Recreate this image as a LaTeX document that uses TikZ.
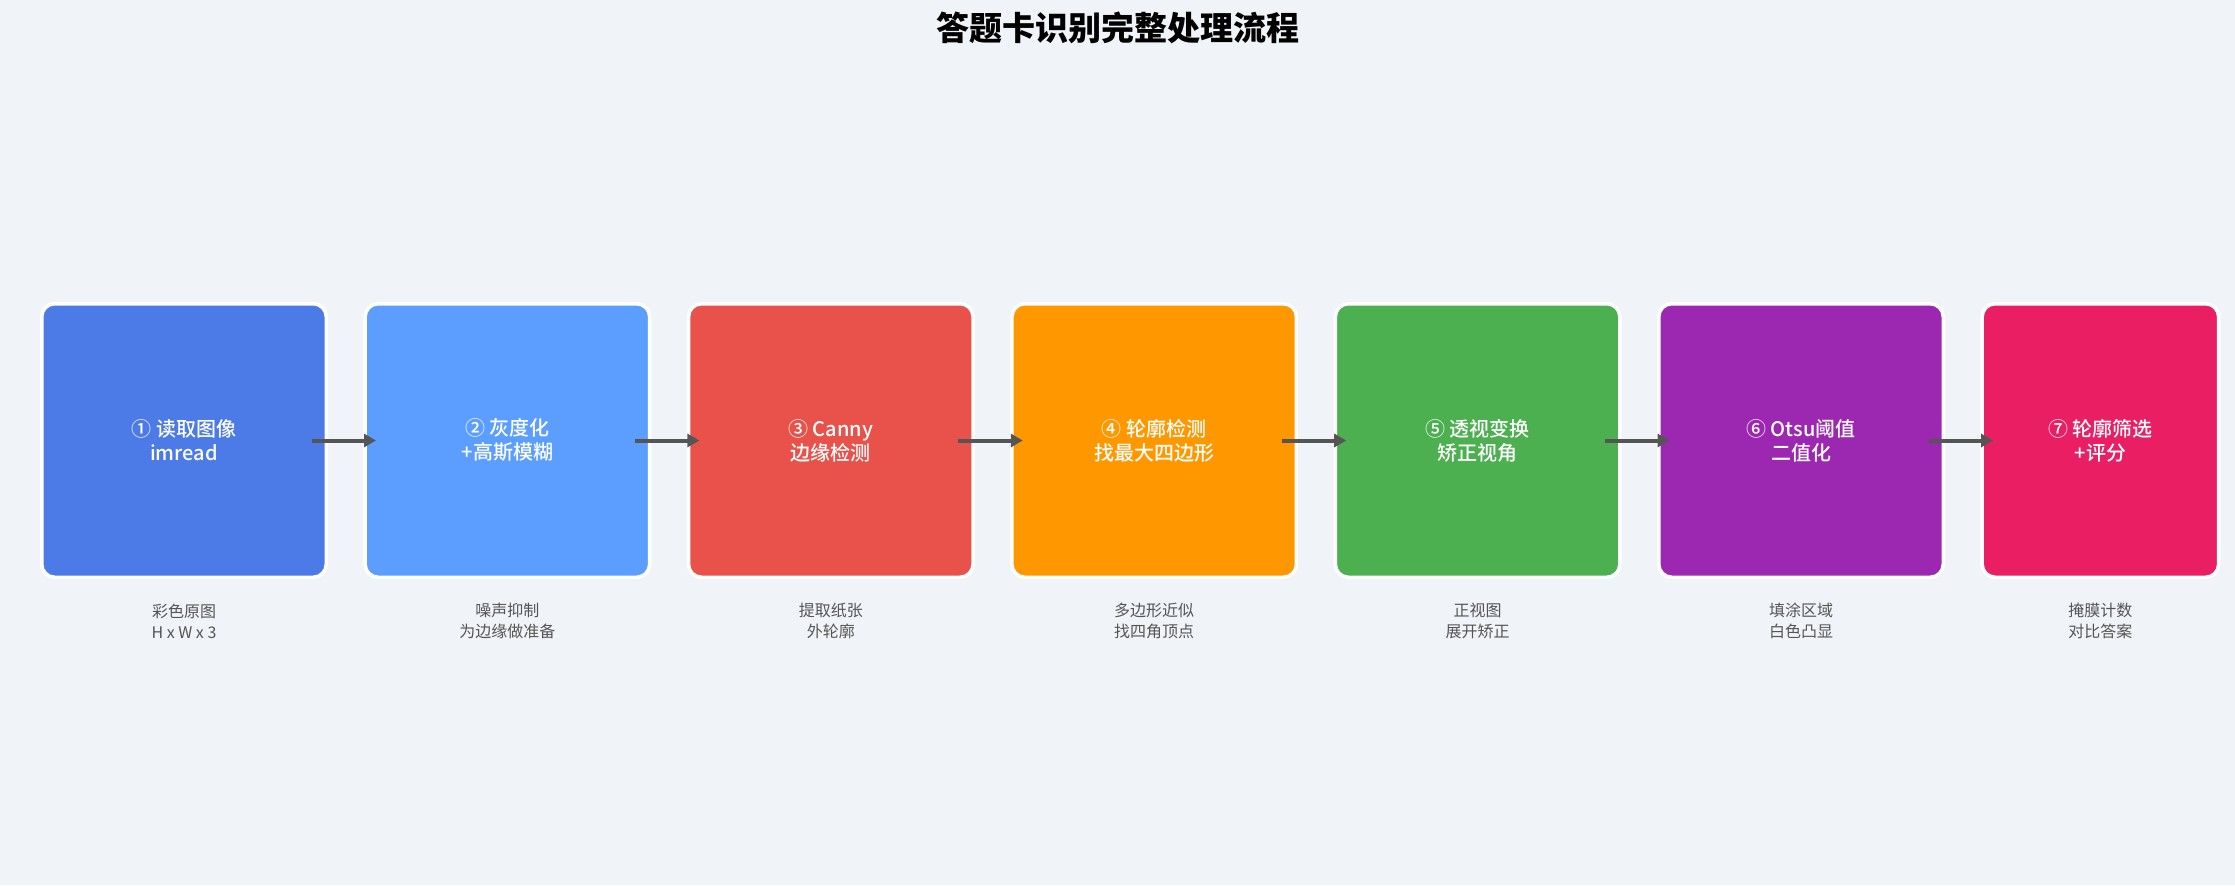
\documentclass[tikz,border=0pt]{standalone}
\usepackage{fontspec}
\usepackage{xcolor}
\usepackage{tikz}
\usetikzlibrary{positioning,arrows.meta}
\newfontfamily\cjk{Noto Sans CJK SC}
\newfontfamily\cjkmed{Noto Sans CJK SC Medium}
\definecolor{bgpanel}{HTML}{F0F4F8}
\definecolor{stepblue}{HTML}{4C7AE6}
\definecolor{stepsky}{HTML}{5C9EFF}
\definecolor{stepred}{HTML}{E8524A}
\definecolor{steporange}{HTML}{FF9800}
\definecolor{stepgreen}{HTML}{4CAF50}
\definecolor{steppurple}{HTML}{9C27B0}
\definecolor{steprose}{HTML}{E91E63}
\definecolor{arrowgray}{HTML}{555555}
\definecolor{notegray}{HTML}{555555}

\begin{document}
\begin{tikzpicture}[x=0.5pt, y=-0.5pt, node distance=17.7pt, every node/.style={font=\cjk},
  stage/.style={draw=white, line width=1.75pt, rounded corners=6.5pt, minimum width=142.25pt, minimum height=136.75pt,
    inner sep=0pt, text=white, align=center, font=\cjkmed\fontsize{10}{12}\selectfont},
  note/.style={text=notegray, align=center, font=\cjk\fontsize{8}{10.5}\selectfont},
  flow/.style={-{Triangle[length=6pt,width=6.5pt]}, line width=2pt, draw=arrowgray}]
  \fill[bgpanel] (0,0) rectangle (2235,885);
  \useasboundingbox (0,0) rectangle (2235,885);
  \node[font=\cjk\bfseries\fontsize{16.5}{20}\selectfont] (title) at (1117.5,28) {答题卡识别完整处理流程};
  % pipeline stages
  \node[stage, fill=stepblue] (s1) at (184,440.5) {① 读取图像\\imread};
  \node[stage, fill=stepsky, right=of s1] (s2) {② 灰度化\\+高斯模糊};
  \node[stage, fill=stepred, right=of s2] (s3) {③ Canny\\边缘检测};
  \node[stage, fill=steporange, right=of s3] (s4) {④ 轮廓检测\\找最大四边形};
  \node[stage, fill=stepgreen, right=of s4] (s5) {⑤ 透视变换\\矫正视角};
  \node[stage, fill=steppurple, right=of s5] (s6) {⑥ Otsu阈值\\二值化};
  \node[stage, fill=steprose, right=of s6, minimum width=118.25pt] (s7) {⑦ 轮廓筛选\\+评分};
  % notes under each stage
  \node[note] (n1) at ([yshift=-21pt]s1.south) {彩色原图\\H x W x 3};
  \node[note] (n2) at ([yshift=-21pt]s2.south) {噪声抑制\\为边缘做准备};
  \node[note] (n3) at ([yshift=-21pt]s3.south) {提取纸张\\外轮廓};
  \node[note] (n4) at ([yshift=-21pt]s4.south) {多边形近似\\找四角顶点};
  \node[note] (n5) at ([yshift=-21pt]s5.south) {正视图\\展开矫正};
  \node[note] (n6) at ([yshift=-21pt]s6.south) {填涂区域\\白色凸显};
  \node[note] (n7) at ([yshift=-21pt]s7.south) {掩膜计数\\对比答案};
  % arrows
  \draw[flow] ([xshift=-8.2pt]s1.east) -- ([xshift=6.3pt]s2.west);
  \draw[flow] ([xshift=-8.2pt]s2.east) -- ([xshift=6.3pt]s3.west);
  \draw[flow] ([xshift=-8.2pt]s3.east) -- ([xshift=6.3pt]s4.west);
  \draw[flow] ([xshift=-8.2pt]s4.east) -- ([xshift=6.3pt]s5.west);
  \draw[flow] ([xshift=-8.2pt]s5.east) -- ([xshift=6.3pt]s6.west);
  \draw[flow] ([xshift=-8.2pt]s6.east) -- ([xshift=6.3pt]s7.west);
\end{tikzpicture}
\end{document}
